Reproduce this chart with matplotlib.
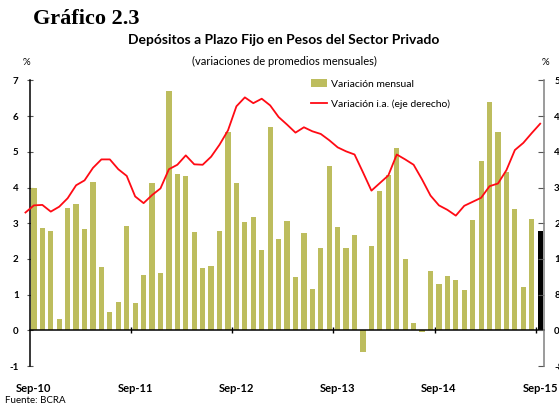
import numpy as np
import pandas as pd
import matplotlib
matplotlib.use("Agg")
import matplotlib.pyplot as plt
from matplotlib.patches import Patch
from matplotlib.lines import Line2D

plt.rcParams["font.family"] = ["Lato", "DejaVu Sans"]

# ========= DATA =========
# monthly change of fixed-term deposits, Sep-10 .. Sep-15 (%)
months = pd.date_range("2010-09-01", periods=61, freq="MS")
var_mensual = [
    3.99, 2.87, 2.77, 0.32, 3.43, 3.55, 2.84, 4.16, 1.78, 0.51, 0.79, 2.93,
    0.77, 1.55, 4.13, 1.61, 6.71, 4.38, 4.33, 2.76, 1.75, 1.80, 2.79, 5.56,
    4.13, 3.04, 3.18, 2.25, 5.70, 2.56, 3.07, 1.50, 2.73, 1.16, 2.31, 4.61,
    2.90, 2.31, 2.67, -0.60, 2.36, 3.91, 4.36, 5.11, 2.00, 0.21, -0.06, 1.66,
    1.30, 1.51, 1.40, 1.12, 3.08, 4.75, 6.39, 5.56, 4.44, 3.40, 1.21, 3.11,
    2.79,
]
# year-on-year change (right axis), Aug-10 .. Sep-15 (%)
line_months = pd.date_range("2010-08-01", periods=62, freq="MS")
var_ia = [
    26.4, 28.0, 28.1, 26.6, 27.7, 29.6, 32.5, 33.6, 36.4, 38.3, 38.3, 36.1,
    34.6, 30.0, 28.5, 30.3, 31.8, 36.1, 37.1, 39.2, 37.2, 37.1, 38.9, 41.6,
    44.8, 50.2, 52.2, 50.9, 51.9, 50.4, 47.8, 46.1, 44.3, 45.5, 44.6, 44.0,
    42.6, 41.0, 40.1, 39.4, 35.4, 31.3, 33.0, 34.7, 39.4, 38.3, 37.1, 33.8,
    30.2, 28.0, 27.0, 25.7, 27.9, 28.8, 29.7, 32.3, 32.9, 35.9, 40.4, 42.0,
    44.2, 46.3,
]
left_ticks = [-1, 0, 1, 2, 3, 4, 5, 6, 7]
right_ticks = [-8, 0, 8, 16, 24, 32, 40, 48, 56]
# =========================

BAR_COLOR = "#BDBD5E"
LINE_COLOR = "#FF0A14"

fig = plt.figure(figsize=(5.59, 4.07), dpi=100)
ax = fig.add_axes([0.0531, 0.1007, 0.9208, 0.7017])

x = np.arange(len(months))
colors = [BAR_COLOR] * (len(months) - 1) + ["black"]
ax.bar(x, var_mensual, width=0.62, color=colors, zorder=2)

ax.set_xlim(-0.5, len(months) - 0.5)
ax.set_ylim(left_ticks[0], left_ticks[-1])
ax.set_yticks(left_ticks)
ax.set_yticklabels([str(t) for t in left_ticks], fontweight="bold", fontsize=7)
ax.tick_params(axis="y", direction="inout", length=4, color="#555555", pad=6)

# x axis sits on zero line
ax.spines["bottom"].set_position(("data", 0))
ax.spines["bottom"].set_linewidth(1.1)
ax.spines["top"].set_visible(False)
ax.spines["right"].set_visible(False)
ax.spines["left"].set_linewidth(1.1)

sep_idx = [i for i, m in enumerate(months) if m.month == 9]
ax.set_xticks([i - 0.5 for i in sep_idx[1:]])
ax.set_xticklabels([])
ax.tick_params(axis="x", which="major", direction="inout", length=5, width=1)
ax.set_xticks(sep_idx, minor=True)
ax.set_xticklabels([m.strftime("%b-%y").capitalize() for m in months[sep_idx]],
                   minor=True, fontweight="bold", fontsize=8)
ax.tick_params(axis="x", which="minor", length=0, pad=38)

ax2 = ax.twinx()
ax2.set_ylim(right_ticks[0], right_ticks[-1])
ax2.set_yticks(right_ticks)
ax2.set_yticklabels([str(t) for t in right_ticks], fontweight="bold", fontsize=7)
ax2.tick_params(axis="y", direction="in", length=4, color="#555555", pad=7)
for s in ["top", "left", "bottom"]:
    ax2.spines[s].set_visible(False)
ax2.spines["right"].set_color("#808080")
ax2.spines["right"].set_linewidth(1.1)

xl = np.arange(len(line_months)) - 1
ax2.plot(xl, var_ia, color=LINE_COLOR, lw=1.3, clip_on=False, zorder=3)

handles = [Patch(facecolor=BAR_COLOR, edgecolor="none"),
           Line2D([0], [0], color=LINE_COLOR, lw=1.3)]
fig.legend(handles, ["Variación mensual", "Variación i.a. (eje derecho)"],
           loc="upper left", bbox_to_anchor=(0.556, 0.805), frameon=False,
           fontsize=7.5, handlelength=1.6, handletextpad=0.35,
           labelspacing=1.05, borderpad=0, borderaxespad=0)

fig.text(0.059, 0.953, "Gráfico 2.3", family="Liberation Serif",
         fontweight="bold", fontsize=16, va="center", ha="left")
fig.text(0.508, 0.902, "Depósitos a Plazo Fijo en Pesos del Sector Privado",
         fontweight="bold", fontsize=10, ha="center", va="center")
fig.text(0.508, 0.850, "(variaciones de promedios mensuales)",
         fontsize=8, ha="center", va="center")
fig.text(0.048, 0.846, "%", fontsize=7, ha="center", va="center")
fig.text(0.975, 0.846, "%", fontsize=7, ha="center", va="center")
fig.text(0.009, 0.016, "Fuente: BCRA", fontsize=7, ha="left", va="center")

fig.savefig("out.png", dpi=100)
